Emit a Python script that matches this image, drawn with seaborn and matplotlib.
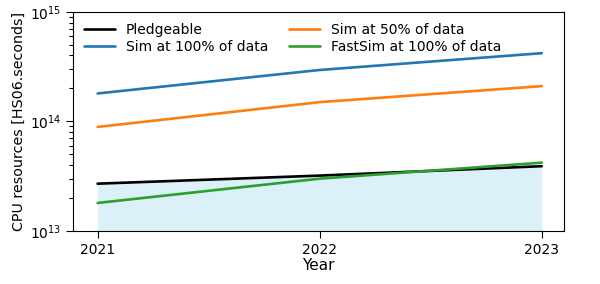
import pandas as pd
import numpy as np
import matplotlib.pyplot as plt
import seaborn as sns
from matplotlib.ticker import LogLocator, NullFormatter

# valores
anos = [2021, 2022, 2023]
pledgeable = [2.7e13, 3.2e13, 3.9e13]
sim_100 = [1.8e14, 2.95e14, 4.2e14]
sim_50 = [8.9e13, 1.5e14, 2.1e14]
fastsim_100 = [1.8e13, 3.0e13, 4.2e13]

series = ['Pledgeable', 'Sim at 100% of data', 'Sim at 50% of data', 'FastSim at 100% of data']
valores = [pledgeable, sim_100, sim_50, fastsim_100]
cores = ['black', '#1f77b4', '#ff7f0e', '#2ca02c']

df = pd.DataFrame({
    'Year': anos * len(series),
    'CPU': np.concatenate(valores),
    'serie': np.repeat(series, len(anos)),
})

sns.set_style('ticks')
plt.rcParams['font.family'] = ['DejaVu Sans']
plt.rcParams['text.color'] = 'black'
plt.rcParams['axes.labelcolor'] = 'black'

fig, ax = plt.subplots(figsize=(6, 2.84), dpi=100)

# área sob a linha de recursos disponíveis
ax.fill_between(anos, 1e13, pledgeable, color='#dcf0fa', linewidth=0)

sns.lineplot(data=df, x='Year', y='CPU', hue='serie', hue_order=series,
             palette=cores, linewidth=1.9, ax=ax)

ax.set_yscale('log')
ax.set_ylim(1e13, 1e15)
ax.yaxis.set_minor_locator(LogLocator(base=10, subs=np.arange(2, 10)))
ax.yaxis.set_minor_formatter(NullFormatter())
ax.set_xlim(2020.89, 2023.1)
ax.set_xticks(anos)
ax.set_xticklabels([str(a) for a in anos])
ax.set_xlabel('Year', fontsize=11, labelpad=1)
ax.set_ylabel('CPU resources [HS06.seconds]', fontsize=10.3, labelpad=3)
ax.tick_params(which='major', labelsize=10, colors='black', length=5)
ax.tick_params(which='minor', colors='black', length=3, width=0.8)

for s in ax.spines.values():
    s.set_visible(True)
    s.set_color('black')

ax.legend(ncol=2, frameon=False, loc='upper left', fontsize=10,
          handlelength=2.2, columnspacing=1.5, labelspacing=0.2,
          borderaxespad=0.4)

plt.subplots_adjust(left=0.122, right=0.94, top=0.958, bottom=0.187)
plt.savefig('out.png', dpi=100)
